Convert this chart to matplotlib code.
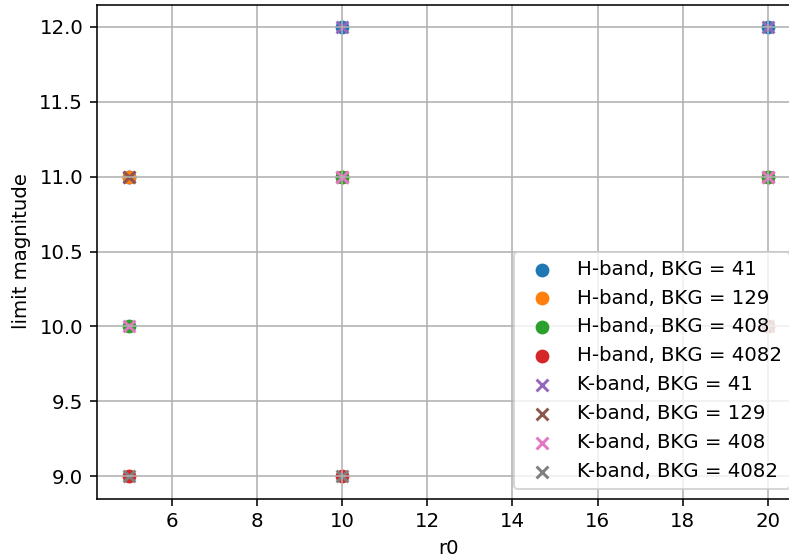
import matplotlib
matplotlib.use("Agg")
import matplotlib.pyplot as plt

# Data
r0 = [5, 10, 20]
bkg_levels = [41, 129, 408, 4082]
h_band_limits = [
    [11, 12, 12],  # BKG = 41
    [11, 11, 11],  # BKG = 129
    [10, 11, 11],  # BKG = 408
    [9, 9, 10],  # BKG = 4082
]
k_band_limits = [
    [11, 12, 12],
    [11, 11, 11],
    [10, 11, 11],
    [9, 9, 10],
]

DPI = 142
fig = plt.figure(figsize=(789 / DPI, 559 / DPI), dpi=DPI)
ax = fig.add_axes([97 / 789, (559 - 498.5) / 559, 703 / 789, 494 / 559])

for bkg, lim in zip(bkg_levels, h_band_limits):
    ax.scatter(r0, lim, marker="o", label=f"H-band, BKG = {bkg}")
for bkg, lim in zip(bkg_levels, k_band_limits):
    ax.scatter(r0, lim, marker="x", label=f"K-band, BKG = {bkg}")

ax.set_xlabel("r0")
ax.set_ylabel("limit magnitude")
ax.grid(True)
ax.legend(loc="lower right")

fig.savefig("out.png", dpi=DPI)
